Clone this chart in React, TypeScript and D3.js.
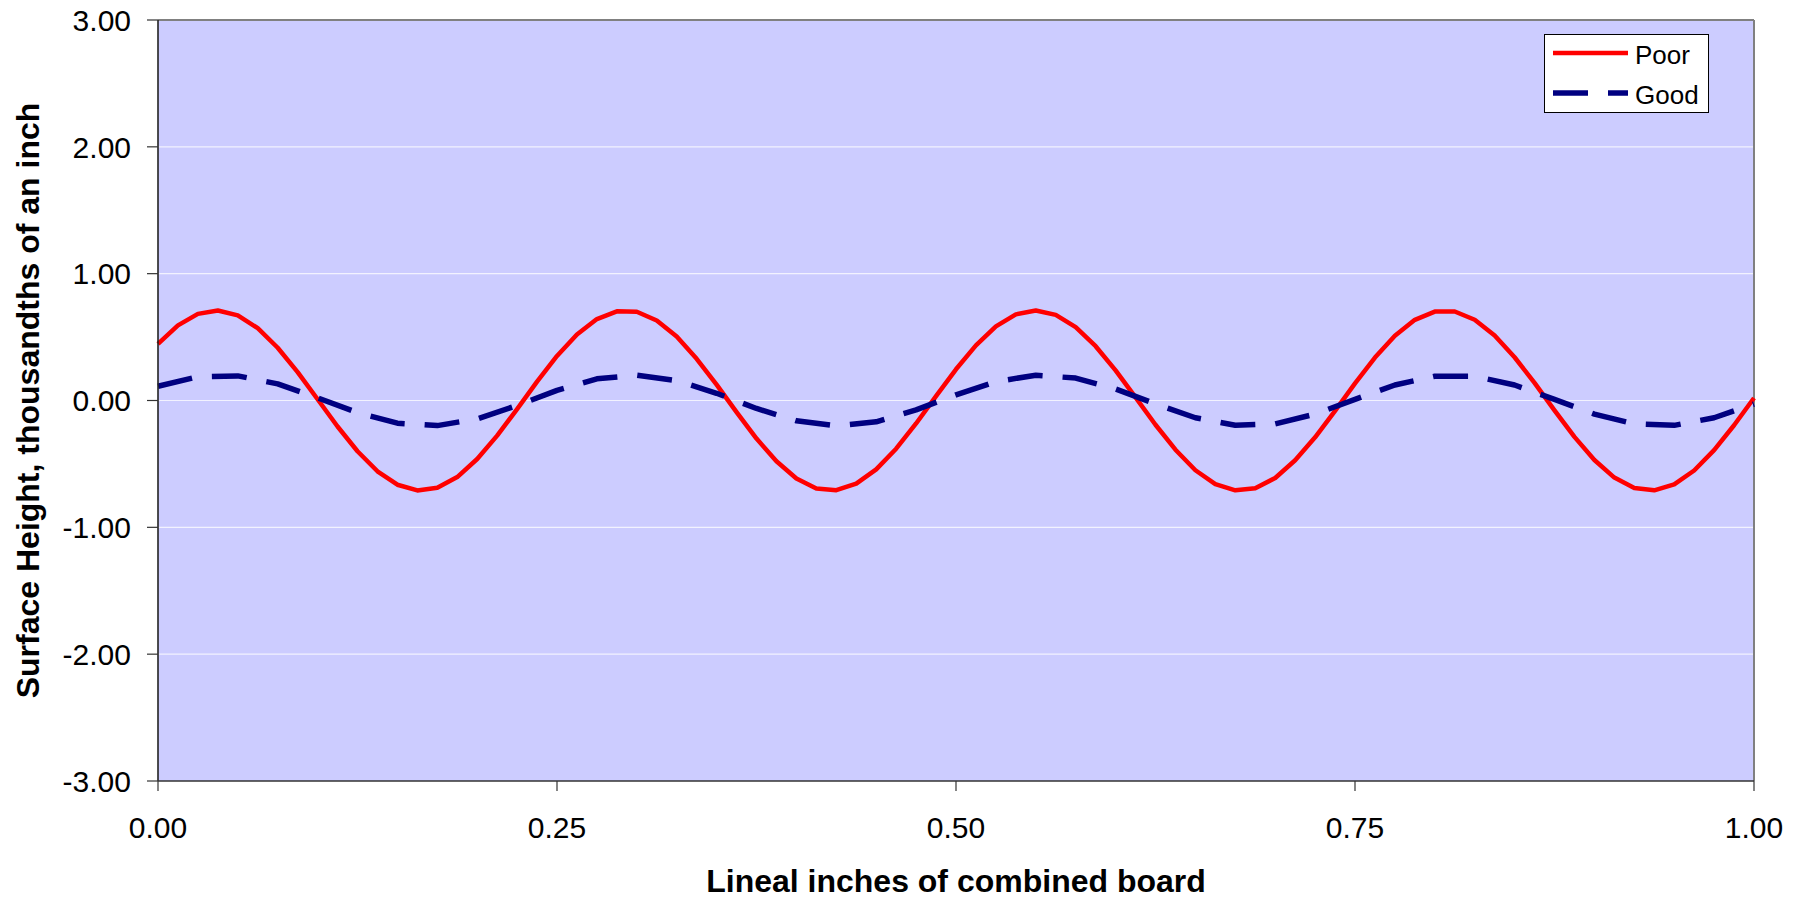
import React from "react";
import * as d3 from "d3";

const poorStep = 0.0125;
const poorValues = [
  0.446, 0.592, 0.683, 0.71, 0.671, 0.57, 0.416, 0.224, 0.01, -0.205,
  -0.4, -0.558, -0.664, -0.709, -0.688, -0.604, -0.461, -0.277, -0.068, 0.149,
  0.351, 0.52, 0.642, 0.703, 0.7, 0.631, 0.504, 0.329, 0.125, -0.092,
  -0.3, -0.479, -0.615, -0.693, -0.707, -0.655, -0.543, -0.38, -0.181, 0.034,
  0.246, 0.435, 0.584, 0.679, 0.71, 0.675, 0.578, 0.428, 0.237, 0.024,
  -0.191, -0.388, -0.55, -0.66, -0.708, -0.691, -0.611, -0.471, -0.29, -0.081,
  0.135, 0.339, 0.511, 0.636, 0.701, 0.702, 0.637, 0.513, 0.341, 0.139,
  -0.078, -0.287, -0.469, -0.608, -0.69, -0.708, -0.662, -0.552, -0.391, -0.195,
  0.02,
];

const goodStep = 0.025;
const goodValues = [
  0.112, 0.187, 0.194, 0.131, 0.021, -0.096, -0.179, -0.198, -0.145, -0.039,
  0.08, 0.171, 0.2, 0.157, 0.057, -0.063, -0.16, -0.2, -0.168, -0.074,
  0.045, 0.149, 0.199, 0.177, 0.091, -0.027, -0.136, -0.195, -0.184, -0.107,
  0.009, 0.122, 0.191, 0.191, 0.122, 0.009, -0.107, -0.184, -0.196, -0.136,
  -0.028,
];

const seriesNames = ["Poor", "Good"];
const yTicks = [-3, -2, -1, 0, 1, 2, 3];
const xTicks = [0, 0.25, 0.5, 0.75, 1];
const xTitle = "Lineal inches of combined board";
const yTitle = "Surface Height, thousandths of an inch";

const W = 1806;
const H = 901;
const L = 158;
const R = 1754;
const T = 20;
const B = 781;

export default function App() {
  const x = d3.scaleLinear().domain([0, 1]).range([L, R]);
  const y = d3.scaleLinear().domain([-3, 3]).range([B, T]);
  const f2 = d3.format(".2f");
  const fmt = (v: number) => f2(v).replace("\u2212", "-");

  const poorPts: [number, number][] = poorValues.map((v, i) => [i * poorStep, v]);
  const goodPts: [number, number][] = goodValues.map((v, i) => [i * goodStep, v]);

  const line = d3
    .line<[number, number]>()
    .x((d) => x(d[0]))
    .y((d) => y(d[1]));

  const font = "Liberation Sans, Arial, Helvetica, sans-serif";

  return (
    <svg
      width={W}
      height={H}
      style={{ position: "absolute", left: 0, top: 0, background: "#fff" }}
      fontFamily={font}
    >
      <rect x={0} y={0} width={W} height={H} fill="#fff" />
      <rect x={L} y={T} width={R - L} height={B - T} fill="#CCCCFF" />
      {yTicks
        .filter((t) => t !== 3 && t !== -3)
        .map((t) => (
          <line key={"g" + t} x1={L} x2={R} y1={y(t)} y2={y(t)} stroke="#F2F2FF" strokeWidth={1.2} />
        ))}
      <line x1={L} x2={R} y1={T} y2={T} stroke="#808080" strokeWidth={2} />
      <line x1={R} x2={R} y1={T} y2={B} stroke="#808080" strokeWidth={2} />
      <path d={line(poorPts) || ""} fill="none" stroke="#FF0000" strokeWidth={4.5} strokeLinejoin="round" />
      <path
        d={line(goodPts) || ""}
        fill="none"
        stroke="#000080"
        strokeWidth={5.5}
        strokeDasharray="35,20"
        strokeLinejoin="round"
      />
      <line x1={L} x2={L} y1={T} y2={B} stroke="#222" strokeWidth={1.6} />
      <line x1={L} x2={R} y1={B} y2={B} stroke="#333" strokeWidth={1.6} />
      {yTicks.map((t) => (
        <g key={"yt" + t}>
          <line x1={L - 11} x2={L} y1={y(t)} y2={y(t)} stroke="#333" strokeWidth={1.2} />
          <text x={131} y={y(t)} dy="0.36em" textAnchor="end" fontSize={30} fill="#000">
            {fmt(t)}
          </text>
        </g>
      ))}
      {xTicks.map((t) => (
        <g key={"xt" + t}>
          <line x1={x(t)} x2={x(t)} y1={B} y2={B + 10} stroke="#333" strokeWidth={1.2} />
          <text x={x(t)} y={838} textAnchor="middle" fontSize={30} fill="#000">
            {fmt(t)}
          </text>
        </g>
      ))}
      <text
        x={(L + R) / 2}
        y={892}
        textAnchor="middle"
        fontSize={32}
        fontWeight="bold"
        fill="#000"
      >
        {xTitle}
      </text>
      <text
        transform={`translate(39, ${(T + B) / 2}) rotate(-90)`}
        textAnchor="middle"
        fontSize={32}
        fontWeight="bold"
        fill="#000"
      >
        {yTitle}
      </text>
      <rect x={1544.5} y={34.5} width={164} height={78} fill="#fff" stroke="#000" strokeWidth={1} />
      <line x1={1553} x2={1628} y1={53} y2={53} stroke="#FF0000" strokeWidth={4.5} />
      <line x1={1553} x2={1628} y1={93} y2={93} stroke="#000080" strokeWidth={5.5} strokeDasharray="35,20" />
      <text x={1635} y={64} fontSize={26} fill="#000">
        {seriesNames[0]}
      </text>
      <text x={1635} y={104} fontSize={26} fill="#000">
        {seriesNames[1]}
      </text>
    </svg>
  );
}
